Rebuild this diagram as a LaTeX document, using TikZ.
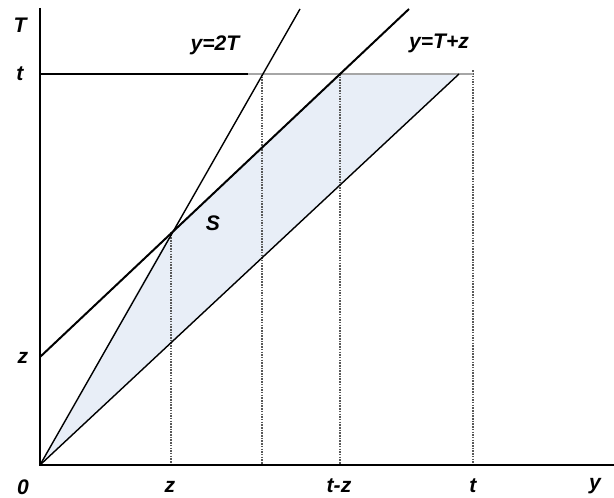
\documentclass[tikz,border=0pt]{standalone}
\usepackage{fontspec}
\setmainfont{Liberation Sans}
\definecolor{regionfill}{RGB}{232,238,247}
\begin{document}
\begin{tikzpicture}[x=0.03cm,y=0.03cm,
  lbl/.style={font=\fontsize{18}{20}\selectfont\bfseries\itshape},
  guide/.style={densely dotted, line width=1.3pt, black!65},
  curve/.style={line width=1.2pt}]
  \useasboundingbox (0,0) rectangle (614,497);
  % points
  \coordinate (O) at (40,32);
  \coordinate (Ttop) at (40,489);
  \coordinate (yend) at (614,32);
  \coordinate (tT) at (40,423);
  \coordinate (zT) at (40,140);
  \coordinate (A) at (171,265);
  \coordinate (B) at (340,423);
  \coordinate (C) at (262,423);
  \coordinate (D) at (459,423);
  \coordinate (E) at (473,423);
  \coordinate (dbrk) at (248,423);
  \coordinate (twoTtop) at (300,488);
  \coordinate (Tztop) at (409,488);
  % region S
  \fill[regionfill] (O) -- (A) -- (B) -- (D) -- cycle;
  % guides
  \draw[guide] (A) -- (A |- O);
  \draw[guide] (C) -- (C |- O);
  \draw[guide] (B) -- (B |- O);
  \draw[guide] ([yshift=3]E) -- (E |- O);
  % line T=t
  \draw[line width=1.3pt, black!35] (dbrk) -- (E);
  \draw[line width=1.3pt] (tT) -- (dbrk);
  % lines
  \draw[curve] (O) -- (twoTtop);
  \draw[curve] (O) -- (D);
  \draw[line width=1.7pt] (zT) -- (Tztop);
  % axes
  \draw[line width=1.5pt] (Ttop) -- (O) -- (yend);
  % labels
  \node[lbl] (lT) at (20,472) {T};
  \node[lbl] (lt) at (20,423) {t};
  \node[lbl] (lz) at (23,139) {z};
  \node[lbl] (l0) at (23,10) {0};
  \node[lbl] (lzy) at (170,10) {z};
  \node[lbl] (ltz) at (339,11) {t-z};
  \node[lbl] (lty) at (473,11) {t};
  \node[lbl] (ly) at (595,11) {y};
  \node[lbl] (l2T) at (215,452) {y=2T};
  \node[lbl] (lTz) at (439,454) {y=T+z};
  \node[lbl] (lS) at (213,274) {S};
\end{tikzpicture}
\end{document}
